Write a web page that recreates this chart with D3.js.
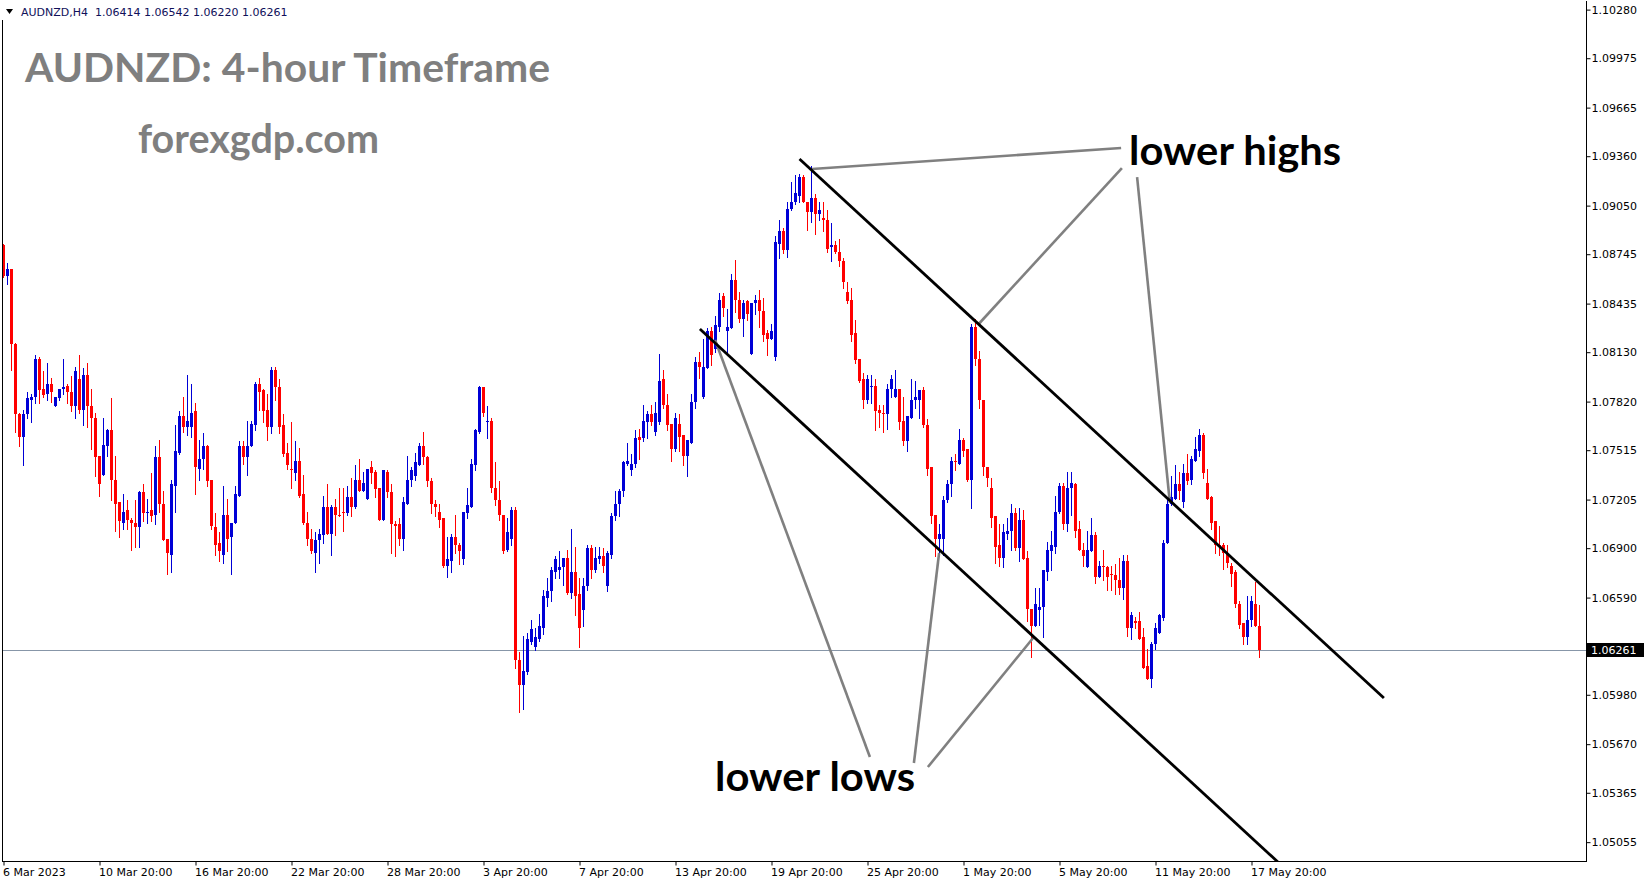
<!DOCTYPE html>
<html><head><meta charset="utf-8">
<script src="https://cdn.jsdelivr.net/npm/d3@7"></script>
<style>html,body{margin:0;padding:0;background:#fff;overflow:hidden}</style>
</head><body>
<svg id="c" width="1649" height="884"></svg>
<script>
// ---- data (AUDNZD H4, bar index 0 = 6 Mar 2023) ----
const opens = [
1.0880,1.0861,1.0865,1.0818,1.0774,1.0760,1.0774,1.0783,1.0785,1.0809,
1.0790,1.0787,1.0793,1.0779,1.0784,1.0790,1.0792,1.0788,1.0779,1.0796,
1.0777,1.0799,1.0779,1.0772,1.0748,1.0736,1.0754,1.0764,1.0733,1.0719,
1.0706,1.0714,1.0708,1.0706,1.0703,1.0725,1.0712,1.0714,1.0711,1.0747,
1.0718,1.0696,1.0686,1.0729,1.0750,1.0773,1.0766,1.0766,1.0776,1.0740,
1.0746,1.0754,1.0733,1.0703,1.0693,1.0686,1.0711,1.0697,1.0706,1.0723,
1.0754,1.0747,1.0754,1.0767,1.0793,1.0789,1.0777,1.0766,1.0802,1.0791,
1.0767,1.0750,1.0740,1.0737,1.0745,1.0724,1.0706,1.0696,1.0687,1.0695,
1.0698,1.0716,1.0699,1.0716,1.0711,1.0713,1.0712,1.0722,1.0716,1.0733,
1.0726,1.0721,1.0741,1.0738,1.0728,1.0708,1.0738,1.0725,1.0705,1.0705,
1.0696,1.0718,1.0733,1.0735,1.0742,1.0754,1.0747,1.0732,1.0718,1.0713,
1.0709,1.0679,1.0682,1.0697,1.0692,1.0683,1.0712,1.0716,1.0742,1.0763,
1.0791,1.0769,1.0770,1.0728,1.0720,1.0711,1.0689,1.0696,1.0714,1.0620,
1.0604,1.0612,1.0631,1.0628,1.0633,1.0640,1.0659,1.0663,1.0675,1.0676,
1.0678,1.0684,1.0662,1.0675,1.0661,1.0651,1.0666,1.0690,1.0676,1.0683,
1.0685,1.0666,1.0686,1.0710,1.0718,1.0726,1.0743,1.0739,1.0743,1.0760,
1.0759,1.0769,1.0774,1.0763,1.0769,1.0796,1.0780,1.0768,1.0752,1.0768,
1.0761,1.0748,1.0756,1.0782,1.0807,1.0785,1.0803,1.0826,1.0815,1.0829,
1.0848,1.0826,1.0828,1.0858,1.0846,1.0834,1.0845,1.0812,1.0844,1.0846,
1.0839,1.0825,1.0821,1.0810,1.0881,1.0889,1.0877,1.0903,1.0907,1.0911,
1.0923,1.0907,1.0901,1.0910,1.0900,1.0897,1.0896,1.0879,1.0880,1.0876,
1.0870,1.0851,1.0846,1.0825,1.0809,1.0796,1.0783,1.0791,1.0792,1.0777,
1.0775,1.0774,1.0790,1.0785,1.0790,1.0770,1.0757,1.0772,1.0783,1.0783,
1.0789,1.0767,1.0741,1.0711,1.0696,1.0696,1.0720,1.0730,1.0745,1.0743,
1.0758,1.0752,1.0733,1.0829,1.0809,1.0783,1.0741,1.0728,1.0710,1.0692,
1.0684,1.0699,1.0701,1.0712,1.0690,1.0708,1.0684,1.0652,1.0641,1.0651,
1.0653,1.0675,1.0688,1.0691,1.0713,1.0729,1.0705,1.0728,1.0730,1.0702,
1.0689,1.0678,1.0688,1.0698,1.0672,1.0679,1.0678,1.0674,1.0673,1.0670,
1.0665,1.0682,1.0640,1.0644,1.0644,1.0634,1.0616,1.0608,1.0630,1.0637,
1.0646,1.0693,1.0718,1.0721,1.0730,1.0719,1.0737,1.0733,1.0745,1.0751,
1.0761,1.0731,1.0722,1.0707,1.0692,1.0692,1.0687,1.0679,1.0675,1.0655,
1.0643,1.0634,1.0645,1.0655,1.06414];
const highs = [
1.0881,1.0869,1.0865,1.0819,1.0775,1.0777,1.0788,1.0787,1.0811,1.0810,
1.0801,1.0806,1.0797,1.0785,1.0790,1.0809,1.0793,1.0798,1.0804,1.0811,
1.0803,1.0806,1.0790,1.0775,1.0748,1.0772,1.0765,1.0784,1.0748,1.0719,
1.0724,1.0720,1.0709,1.0720,1.0726,1.0730,1.0721,1.0737,1.0754,1.0758,
1.0726,1.0696,1.0733,1.0767,1.0776,1.0785,1.0799,1.0793,1.0781,1.0758,
1.0762,1.0755,1.0733,1.0712,1.0700,1.0729,1.0721,1.0706,1.0729,1.0757,
1.0757,1.0770,1.0770,1.0794,1.0797,1.0790,1.0787,1.0804,1.0804,1.0796,
1.0774,1.0756,1.0769,1.0757,1.0753,1.0736,1.0713,1.0702,1.0700,1.0702,
1.0723,1.0730,1.0717,1.0721,1.0728,1.0728,1.0729,1.0734,1.0742,1.0746,
1.0738,1.0740,1.0745,1.0739,1.0728,1.0739,1.0739,1.0730,1.0707,1.0709,
1.0722,1.0748,1.0741,1.0750,1.0756,1.0763,1.0748,1.0734,1.0720,1.0718,
1.0709,1.0697,1.0699,1.0711,1.0693,1.0713,1.0728,1.0746,1.0765,1.0792,
1.0791,1.0779,1.0772,1.0744,1.0732,1.0711,1.0709,1.0716,1.0716,1.0625,
1.0635,1.0637,1.0645,1.0640,1.0649,1.0664,1.0671,1.0678,1.0685,1.0688,
1.0684,1.0689,1.0702,1.0691,1.0671,1.0671,1.0692,1.0692,1.0691,1.0691,
1.0690,1.0688,1.0712,1.0726,1.0727,1.0745,1.0756,1.0749,1.0764,1.0765,
1.0780,1.0776,1.0780,1.0782,1.0812,1.0802,1.0787,1.0768,1.0775,1.0774,
1.0761,1.0758,1.0787,1.0810,1.0813,1.0821,1.0828,1.0829,1.0836,1.0850,
1.0850,1.0840,1.0862,1.0871,1.0851,1.0846,1.0846,1.0844,1.0849,1.0852,
1.0847,1.0827,1.0831,1.0886,1.0896,1.0891,1.0907,1.0920,1.0924,1.0925,
1.0924,1.0907,1.0930,1.0912,1.0907,1.0907,1.0902,1.0894,1.0883,1.0884,
1.0872,1.0857,1.0853,1.0833,1.0809,1.0800,1.0799,1.0799,1.0796,1.0780,
1.0780,1.0793,1.0799,1.0802,1.0790,1.0785,1.0773,1.0796,1.0795,1.0789,
1.0791,1.0771,1.0741,1.0711,1.0705,1.0723,1.0733,1.0747,1.0749,1.0765,
1.0759,1.0752,1.0831,1.0834,1.0814,1.0783,1.0741,1.0734,1.0710,1.0705,
1.0705,1.0709,1.0718,1.0715,1.0715,1.0714,1.0688,1.0652,1.0665,1.0665,
1.0676,1.0694,1.0701,1.0723,1.0731,1.0731,1.0738,1.0738,1.0731,1.0707,
1.0693,1.0701,1.0709,1.0700,1.0682,1.0689,1.0679,1.0679,1.0680,1.0684,
1.0686,1.0686,1.0650,1.0647,1.0650,1.0640,1.0627,1.0631,1.0643,1.0649,
1.0695,1.0721,1.0735,1.0742,1.0738,1.0743,1.0749,1.0748,1.0760,1.0765,
1.0762,1.0740,1.0723,1.0707,1.0704,1.0693,1.0692,1.0681,1.0676,1.0657,
1.0643,1.0660,1.0660,1.0669,1.06542];
const lows = [
1.0860,1.0856,1.0802,1.0763,1.0754,1.0742,1.0772,1.0769,1.0781,1.0781,
1.0785,1.0783,1.0782,1.0779,1.0783,1.0787,1.0781,1.0776,1.0772,1.0775,
1.0767,1.0766,1.0752,1.0735,1.0723,1.0736,1.0748,1.0720,1.0701,1.0697,
1.0702,1.0702,1.0689,1.0691,1.0691,1.0707,1.0706,1.0707,1.0705,1.0713,
1.0695,1.0674,1.0675,1.0713,1.0749,1.0763,1.0761,1.0760,1.0724,1.0733,
1.0740,1.0729,1.0702,1.0686,1.0682,1.0681,1.0688,1.0674,1.0706,1.0723,
1.0743,1.0736,1.0754,1.0764,1.0777,1.0769,1.0758,1.0762,1.0783,1.0762,
1.0748,1.0740,1.0728,1.0733,1.0722,1.0705,1.0692,1.0687,1.0675,1.0681,
1.0693,1.0699,1.0686,1.0698,1.0710,1.0701,1.0711,1.0710,1.0715,1.0726,
1.0726,1.0721,1.0731,1.0722,1.0708,1.0708,1.0722,1.0687,1.0685,1.0692,
1.0689,1.0718,1.0729,1.0733,1.0742,1.0743,1.0729,1.0712,1.0710,1.0703,
1.0678,1.0672,1.0675,1.0687,1.0680,1.0680,1.0709,1.0716,1.0739,1.0762,
1.0773,1.0759,1.0725,1.0717,1.0708,1.0687,1.0688,1.0692,1.0615,1.0587,
1.0589,1.0611,1.0630,1.0626,1.0632,1.0636,1.0654,1.0657,1.0671,1.0671,
1.0667,1.0661,1.0659,1.0648,1.0628,1.0641,1.0664,1.0671,1.0675,1.0681,
1.0675,1.0663,1.0684,1.0708,1.0710,1.0723,1.0742,1.0736,1.0741,1.0746,
1.0757,1.0759,1.0767,1.0761,1.0768,1.0778,1.0764,1.0745,1.0751,1.0751,
1.0742,1.0735,1.0756,1.0778,1.0797,1.0784,1.0803,1.0805,1.0813,1.0826,
1.0836,1.0813,1.0828,1.0838,1.0832,1.0823,1.0833,1.0812,1.0837,1.0829,
1.0820,1.0811,1.0821,1.0808,1.0872,1.0875,1.0873,1.0902,1.0906,1.0907,
1.0907,1.0890,1.0895,1.0887,1.0896,1.0889,1.0876,1.0870,1.0875,1.0867,
1.0853,1.0844,1.0820,1.0806,1.0794,1.0778,1.0781,1.0781,1.0764,1.0766,
1.0763,1.0765,1.0785,1.0785,1.0765,1.0755,1.0751,1.0772,1.0778,1.0772,
1.0766,1.0736,1.0706,1.0685,1.0685,1.0686,1.0719,1.0723,1.0739,1.0743,
1.0748,1.0732,1.0715,1.0805,1.0778,1.0736,1.0729,1.0703,1.0681,1.0679,
1.0678,1.0696,1.0689,1.0689,1.0682,1.0683,1.0644,1.0622,1.0641,1.0642,
1.0634,1.0670,1.0676,1.0687,1.0712,1.0702,1.0701,1.0711,1.0697,1.0689,
1.0679,1.0678,1.0688,1.0668,1.0672,1.0670,1.0664,1.0664,1.0661,1.0661,
1.0658,1.0635,1.0633,1.0640,1.0633,1.0615,1.0608,1.0603,1.0627,1.0637,
1.0645,1.0693,1.0717,1.0721,1.0721,1.0716,1.0730,1.0730,1.0745,1.0748,
1.0734,1.0721,1.0702,1.0687,1.0686,1.0677,1.0678,1.0666,1.0653,1.0640,
1.0630,1.0630,1.0641,1.0641,1.06220];
const closes = [
1.0861,1.0865,1.0818,1.0774,1.0760,1.0774,1.0784,1.0785,1.0809,1.0789,
1.0786,1.0793,1.0788,1.0785,1.0790,1.0791,1.0788,1.0779,1.0801,1.0777,
1.0799,1.0779,1.0772,1.0747,1.0730,1.0755,1.0764,1.0733,1.0718,1.0707,
1.0713,1.0708,1.0706,1.0703,1.0725,1.0712,1.0713,1.0710,1.0747,1.0718,
1.0695,1.0687,1.0730,1.0751,1.0773,1.0766,1.0770,1.0775,1.0741,1.0746,
1.0754,1.0732,1.0704,1.0692,1.0688,1.0711,1.0696,1.0706,1.0724,1.0754,
1.0747,1.0754,1.0768,1.0793,1.0788,1.0776,1.0766,1.0802,1.0791,1.0766,
1.0749,1.0742,1.0739,1.0745,1.0723,1.0706,1.0696,1.0688,1.0695,1.0699,
1.0716,1.0699,1.0716,1.0711,1.0710,1.0712,1.0722,1.0716,1.0733,1.0726,
1.0731,1.0740,1.0737,1.0727,1.0708,1.0739,1.0725,1.0705,1.0704,1.0696,
1.0719,1.0733,1.0739,1.0744,1.0754,1.0747,1.0732,1.0718,1.0716,1.0708,
1.0679,1.0683,1.0697,1.0692,1.0688,1.0713,1.0717,1.0743,1.0764,1.0791,
1.0775,1.0770,1.0728,1.0720,1.0711,1.0688,1.0700,1.0714,1.0620,1.0604,
1.0613,1.0633,1.0639,1.0634,1.0641,1.0660,1.0663,1.0676,1.0683,1.0678,
1.0684,1.0662,1.0675,1.0660,1.0640,1.0666,1.0690,1.0676,1.0684,1.0685,
1.0679,1.0687,1.0710,1.0718,1.0726,1.0744,1.0745,1.0743,1.0759,1.0758,
1.0770,1.0774,1.0769,1.0775,1.0795,1.0780,1.0767,1.0752,1.0772,1.0760,
1.0748,1.0758,1.0782,1.0807,1.0804,1.0804,1.0826,1.0811,1.0830,1.0846,
1.0841,1.0829,1.0858,1.0846,1.0834,1.0844,1.0837,1.0844,1.0846,1.0839,
1.0824,1.0821,1.0826,1.0882,1.0889,1.0877,1.0903,1.0907,1.0913,1.0923,
1.0907,1.0901,1.0910,1.0900,1.0902,1.0896,1.0878,1.0880,1.0876,1.0870,
1.0857,1.0845,1.0824,1.0808,1.0795,1.0783,1.0796,1.0792,1.0776,1.0775,
1.0774,1.0790,1.0796,1.0790,1.0769,1.0757,1.0773,1.0783,1.0785,1.0789,
1.0767,1.0740,1.0710,1.0696,1.0699,1.0720,1.0730,1.0745,1.0744,1.0758,
1.0751,1.0733,1.0829,1.0809,1.0783,1.0741,1.0734,1.0709,1.0691,1.0684,
1.0700,1.0701,1.0712,1.0690,1.0708,1.0683,1.0652,1.0641,1.0655,1.0653,
1.0676,1.0689,1.0692,1.0713,1.0729,1.0705,1.0728,1.0731,1.0701,1.0689,
1.0685,1.0689,1.0698,1.0672,1.0679,1.0678,1.0672,1.0673,1.0670,1.0665,
1.0682,1.0640,1.0648,1.0643,1.0633,1.0615,1.0608,1.0630,1.0640,1.0648,
1.0693,1.0718,1.0722,1.0730,1.0726,1.0737,1.0732,1.0746,1.0752,1.0761,
1.0737,1.0721,1.0706,1.0692,1.0691,1.0687,1.0681,1.0674,1.0655,1.0642,
1.0634,1.0645,1.0657,1.0641,1.06261];

const xTickBars = [0,24,48,72,96,120,144,168,192,216,240,264,288,312];
const xTickLabels = ["6 Mar 2023","10 Mar 20:00","16 Mar 20:00","22 Mar 20:00","28 Mar 20:00","3 Apr 20:00","7 Apr 20:00","13 Apr 20:00","19 Apr 20:00","25 Apr 20:00","1 May 20:00","5 May 20:00","11 May 20:00","17 May 20:00"];
const yTickValues = [1.10280,1.09975,1.09665,1.09360,1.09050,1.08745,1.08435,1.08130,1.07820,1.07515,1.07205,1.06900,1.06590,1.06285,1.05980,1.05670,1.05365,1.05055];
const headerText = "AUDNZD,H4  1.06414 1.06542 1.06220 1.06261";
const lastPrice = 1.06261;

// annotation lines in (bar, price) space
const channelLines = [
  [[199.0,1.093425],[345.1,1.059598]],
  [[174.1,1.082756],[318.6,1.049305]]
];
const pointerLines = [
  [[202.1,1.092798],[279.4,1.094116]],
  [[243.8,1.083070],[279.6,1.092860]],
  [[291.6,1.071836],[283.4,1.092295]],
  [[177.9,1.082066],[216.6,1.055895]],
  [[233.9,1.068698],[227.6,1.055518]],
  [[257.6,1.063426],[231.1,1.055267]]
];
const notes = [
  {text:"lower highs", bar:281.4, price:1.093049, len:212},
  {text:"lower lows",  bar:177.9, price:1.053761, len:200}
];

// ---- layout ----
const W = 1649, H = 884;
const plotL = 2, plotR = 1586, plotB = 861;
const svg = d3.select("#c");
svg.append("rect").attr("width",W).attr("height",H).attr("fill","#fff");

const x = d3.scaleLinear().domain([0,314]).range([3.5,1259.5]);
const y = d3.scaleLinear().domain([1.103404,1.049368]).range([0,plotB]);

svg.append("defs").append("clipPath").attr("id","plot")
  .append("rect").attr("x",plotL+1).attr("y",0).attr("width",plotR-plotL-1).attr("height",plotB);

const data = opens.map((o,i)=>({i,o,h:highs[i],l:lows[i],c:closes[i]}));

// current price line
svg.append("line").attr("x1",plotL).attr("x2",plotR)
  .attr("y1",Math.round(y(lastPrice))+0.5).attr("y2",Math.round(y(lastPrice))+0.5)
  .attr("stroke","#8796a8").attr("stroke-width",1);

const g = svg.append("g").attr("clip-path","url(#plot)").attr("shape-rendering","crispEdges");
const col = d => d.c >= d.o ? "#0000d6" : "#ff0000";
g.selectAll("rect.w").data(data).join("rect").attr("class","w")
  .attr("x",d=>Math.round(x(d.i)-0.5)).attr("width",1)
  .attr("y",d=>Math.round(y(d.h))).attr("height",d=>Math.max(1,Math.round(y(d.l))-Math.round(y(d.h))+1))
  .attr("fill",col);
g.selectAll("rect.b").data(data).join("rect").attr("class","b")
  .attr("x",d=>Math.round(x(d.i)-1.5)).attr("width",3)
  .attr("y",d=>Math.round(y(Math.max(d.o,d.c))))
  .attr("height",d=>Math.max(1,Math.round(y(Math.min(d.o,d.c)))-Math.round(y(Math.max(d.o,d.c)))))
  .attr("fill",col);

// annotations
const ln = d3.line().x(p=>x(p[0])).y(p=>y(p[1]));
const ag = svg.append("g").attr("clip-path","url(#plot)");
ag.selectAll("path.p").data(pointerLines).join("path").attr("class","p")
  .attr("d",ln).attr("stroke","#808080").attr("stroke-width",2.6).attr("fill","none");
ag.selectAll("path.ch").data(channelLines).join("path").attr("class","ch")
  .attr("d",ln).attr("stroke","#000").attr("stroke-width",2.8).attr("fill","none");
svg.selectAll("text.note").data(notes).join("text").attr("class","note")
  .attr("x",d=>x(d.bar)).attr("y",d=>y(d.price))
  .attr("font-family","Lato, 'Open Sans', sans-serif").attr("font-weight",700)
  .attr("font-size",41).attr("fill","#000")
  .attr("textLength",d=>d.len).attr("lengthAdjust","spacingAndGlyphs")
  .text(d=>d.text);

// title overlays
svg.append("text").attr("x",25).attr("y",82).attr("fill","#7f7f7f")
  .attr("font-family","Lato, 'Open Sans', sans-serif").attr("font-weight",700).attr("font-size",41)
  .attr("textLength",525).attr("lengthAdjust","spacingAndGlyphs").text("AUDNZD: 4-hour Timeframe");
svg.append("text").attr("x",138).attr("y",153).attr("fill","#7f7f7f")
  .attr("font-family","Lato, 'Open Sans', sans-serif").attr("font-weight",700).attr("font-size",41)
  .attr("textLength",241).attr("lengthAdjust","spacingAndGlyphs").text("forexgdp.com");

// frame
const fr = svg.append("g").attr("shape-rendering","crispEdges").attr("stroke","#000");
fr.append("line").attr("x1",plotL+0.5).attr("x2",plotL+0.5).attr("y1",20).attr("y2",plotB+0.5);
fr.append("line").attr("x1",plotL).attr("x2",plotR+1).attr("y1",plotB+0.5).attr("y2",plotB+0.5);
fr.append("line").attr("x1",plotR+0.5).attr("x2",plotR+0.5).attr("y1",1).attr("y2",plotB+1);

// y axis (label under the current-price box is hidden, as in the terminal)
const hidden = v => Math.abs(y(v) - y(lastPrice)) < 12;
const ya = svg.append("g").attr("transform",`translate(${plotR+0.5},0)`)
  .call(d3.axisRight(y).tickValues(yTickValues).tickFormat(v => hidden(v) ? "" : d3.format(".5f")(v))
    .tickSize(4).tickSizeOuter(0).tickPadding(1));
ya.select(".domain").remove();
ya.selectAll("line").attr("stroke","#000");
ya.selectAll("text").attr("font-family","'DejaVu Sans', Verdana, sans-serif").attr("font-size",11).attr("fill","#000");

// price label
const py = Math.round(y(lastPrice));
svg.append("rect").attr("x",plotR+1).attr("y",py-7).attr("width",57).attr("height",14).attr("fill","#000");
svg.append("text").attr("x",plotR+5).attr("y",py+4).attr("fill","#fff")
  .attr("font-family","'DejaVu Sans', Verdana, sans-serif").attr("font-size",11).text(d3.format(".5f")(lastPrice));

// x axis
const xa = svg.append("g").attr("transform",`translate(0,${plotB+0.5})`)
  .call(d3.axisBottom(x).tickValues(xTickBars).tickFormat((d,i)=>xTickLabels[i]).tickSize(4).tickSizeOuter(0).tickPadding(3));
xa.select(".domain").remove();
xa.selectAll("line").attr("stroke","#000");
xa.selectAll("text").attr("text-anchor","start").attr("x",-1)
  .attr("font-family","'DejaVu Sans', Verdana, sans-serif").attr("font-size",11).attr("fill","#000");

// header
svg.append("path").attr("d","M6,9 L13,9 L9.5,14 Z").attr("fill","#000");
svg.append("text").attr("x",21).attr("y",16).attr("fill","#10105a")
  .attr("font-family","'DejaVu Sans', Verdana, sans-serif").attr("font-size",11)
  .attr("xml:space","preserve").style("white-space","pre").text(headerText);
</script>
</body></html>
